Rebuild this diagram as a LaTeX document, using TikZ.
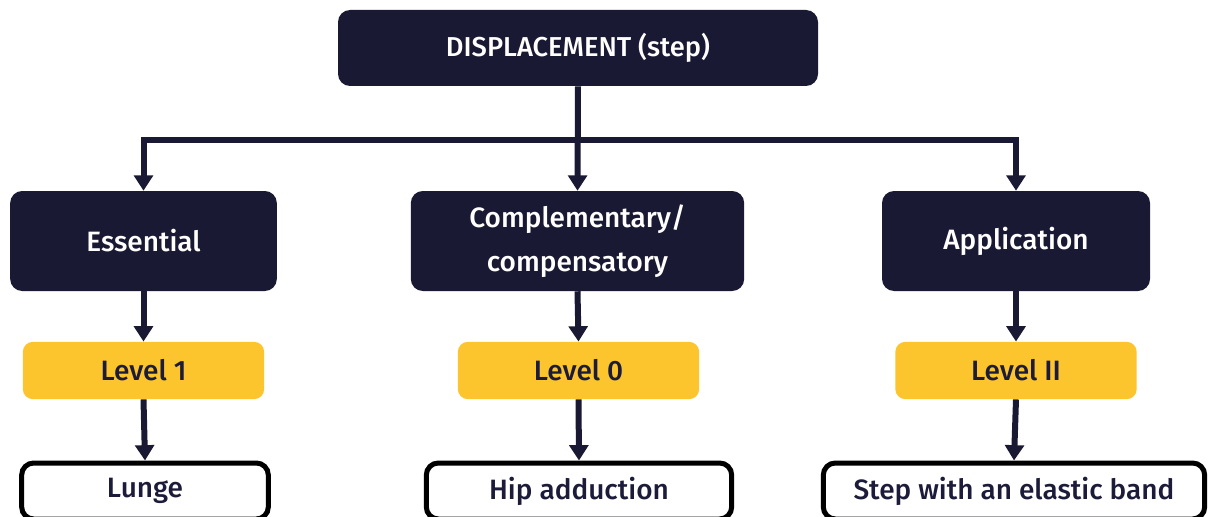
\documentclass[tikz,border=0pt]{standalone}
\usepackage{fontspec}
\setmainfont{Fira Sans}[UprightFont={* Medium}]
\usetikzlibrary{arrows.meta}
\definecolor{navy}{HTML}{1A1934}
\definecolor{ink}{HTML}{1C1B3A}
\definecolor{gold}{HTML}{FCC42D}
\begin{document}
\begin{tikzpicture}[x=0.75pt,y=-0.75pt,
  darkbox/.style={fill=navy,draw=none,rounded corners=9pt,text=white,font=\fontsize{21}{33}\selectfont,align=center,inner sep=0pt},
  goldbox/.style={fill=gold,draw=none,rounded corners=7.5pt,text=ink,font=\fontsize{21}{25}\selectfont,inner sep=0pt,minimum width=181pt,minimum height=43pt},
  leafbox/.style={fill=white,draw=black,line width=3.75pt,rounded corners=9pt,text=ink,font=\fontsize{21}{25}\selectfont,inner sep=0pt,minimum height=42pt},
  conn/.style={draw=navy,line width=4.5pt},
  tip/.style={-{Triangle[length=11.5pt,width=14pt]}}]
\useasboundingbox (0,0) rectangle (1208,517);
\clip (0,0) rectangle (1208,517);
\node[darkbox,minimum width=360pt,minimum height=57pt,font=\fontsize{20.5}{24}\selectfont] (top) at (578,48) {DISPLACEMENT (step)};
\node[darkbox,minimum width=200pt,minimum height=75pt] (ess) at (143.5,241) {Essential};
\node[darkbox,minimum width=250pt,minimum height=75pt] (comp) at (577.5,241) {Complementary/\\compensatory};
\node[darkbox,minimum width=201pt,minimum height=75pt] (app) at (1016,241) {Application};
\node[goldbox] (l1) at (143.5,370.5) {Level 1};
\node[goldbox] (l0) at (578.5,370.5) {Level 0};
\node[goldbox] (l2) at (1016,370.5) {Level II};
\node[leafbox,minimum width=185pt] (lunge) at (145,491) {Lunge};
\node[leafbox,minimum width=229pt] (hip) at (579,491) {Hip adduction};
\node[leafbox,minimum width=286pt] (stepb) at (1014,491) {Step with an elastic band};
\coordinate (hy) at (578,140);
\draw[conn,{Triangle[length=11.5pt,width=14pt]}-{Triangle[length=11.5pt,width=14pt]}] (ess.north) -- (ess.north |- hy) -- (app.north |- hy) -- (app.north);
\draw[conn,tip] (top.south) -- (comp.north);
\draw[conn,tip] (ess.south) -- (l1.north);
\draw[conn,tip] (comp.south) -- (l0.north);
\draw[conn,tip] (app.south) -- (l2.north);
\draw[conn,tip] (l1.south) -- (lunge.north);
\draw[conn,tip] (l0.south) -- (hip.north);
\draw[conn,tip] (l2.south) -- (stepb.north);
\end{tikzpicture}
\end{document}
